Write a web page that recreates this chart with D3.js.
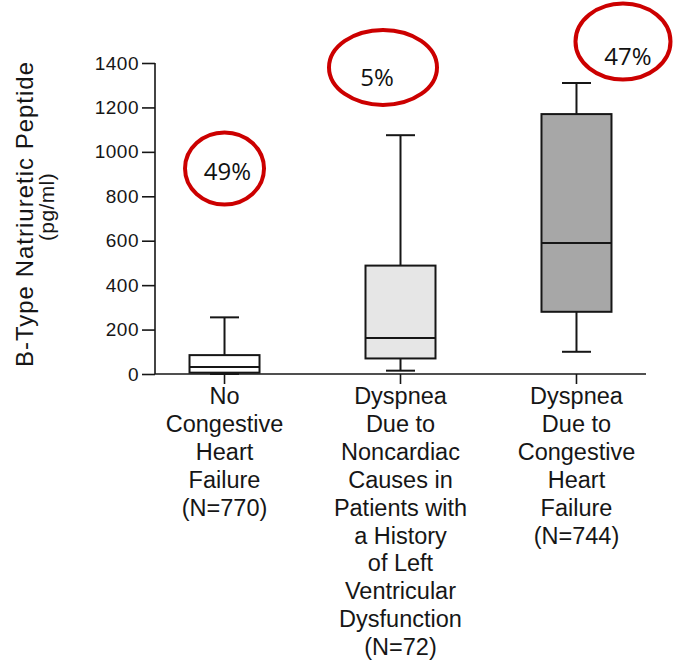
<!DOCTYPE html>
<html>
<head>
<meta charset="utf-8">
<script src="https://cdn.jsdelivr.net/npm/d3@7"></script>
<style>
  html, body { margin: 0; padding: 0; background: #fff; }
  svg { display: block; }
</style>
</head>
<body>
<svg id="chart" width="675" height="662"></svg>
<script>
// Groups and their box-plot summaries (pg/ml)
const groupLabels = [
  ["No", "Congestive", "Heart", "Failure", "(N=770)"],
  ["Dyspnea", "Due to", "Noncardiac", "Causes in", "Patients with", "a History", "of Left", "Ventricular", "Dysfunction", "(N=72)"],
  ["Dyspnea", "Due to", "Congestive", "Heart", "Failure", "(N=744)"]
];
const whiskerLow  = [0, 15, 100];
const quartile1   = [6, 70, 280];
const medians     = [32, 162, 590];
const quartile3   = [85, 488, 1170];
const whiskerHigh = [255, 1075, 1310];
const boxFills    = ["#ffffff", "#e6e6e6", "#a7a7a7"];

const yTicks = [0, 200, 400, 600, 800, 1000, 1200, 1400];

// Percent callouts drawn over the groups
const callouts = ["49%", "5%", "47%"];

const svg = d3.select("#chart");
const ink = "#161616";
const sans = "Liberation Sans, Arial, sans-serif";

const x = d3.scalePoint()
  .domain(d3.range(groupLabels.length))
  .range([155, 646])
  .padding(0.395);

const y = d3.scaleLinear().domain([0, 1400]).range([374, 63]);

// Y axis
const yAxis = svg.append("g")
  .attr("transform", "translate(155,0)")
  .call(d3.axisLeft(y).tickValues(yTicks).tickSize(13).tickPadding(3).tickFormat(d3.format("d")));
yAxis.selectAll("path, line").attr("stroke", ink).attr("stroke-width", 1.6);
yAxis.select(".domain").attr("d", `M0,${y(1400)}V${y(0)}`);
yAxis.attr("font-family", sans).attr("font-size", 19);
yAxis.selectAll("text")
  .attr("letter-spacing", 0.5)
  .attr("fill", ink);

// X axis baseline with ticks under each group
const xAxis = svg.append("g").attr("transform", `translate(0,${y(0)})`);
xAxis.append("line")
  .attr("x1", 155).attr("x2", 646)
  .attr("stroke", ink).attr("stroke-width", 1.6);
xAxis.selectAll("line.tick")
  .data(d3.range(groupLabels.length))
  .join("line")
  .attr("class", "tick")
  .attr("x1", d => x(d)).attr("x2", d => x(d))
  .attr("y1", 0).attr("y2", 10)
  .attr("stroke", ink).attr("stroke-width", 1.6);

// Group labels
const labelG = svg.append("g")
  .attr("font-family", sans)
  .attr("font-size", 23.5)
  .attr("fill", ink)
  .attr("text-anchor", "middle");
groupLabels.forEach((lines, i) => {
  const t = labelG.append("text").attr("x", x(i)).attr("y", 404);
  lines.forEach((ln, k) => {
    t.append("tspan").attr("x", x(i)).attr("dy", k === 0 ? 0 : 27.9).text(ln);
  });
});

// Y axis title
const titleG = svg.append("g")
  .attr("font-family", sans)
  .attr("fill", ink)
  .attr("text-anchor", "middle");
titleG.append("text")
  .attr("transform", "translate(33,214) rotate(-90)")
  .attr("font-size", 24)
  .attr("letter-spacing", 1)
  .text("B-Type Natriuretic Peptide");
titleG.append("text")
  .attr("transform", "translate(54,207) rotate(-90)")
  .attr("font-size", 21)
  .attr("letter-spacing", 0.4)
  .text("(pg/ml)");

// Box plots
const boxW = 70, capW = 29;
const boxes = svg.append("g")
  .selectAll("g")
  .data(d3.range(groupLabels.length))
  .join("g")
  .attr("stroke", ink)
  .attr("stroke-width", 2);

boxes.append("line")
  .attr("x1", i => x(i)).attr("x2", i => x(i))
  .attr("y1", i => y(whiskerHigh[i])).attr("y2", i => y(quartile3[i]));
boxes.append("line")
  .attr("x1", i => x(i)).attr("x2", i => x(i))
  .attr("y1", i => y(quartile1[i])).attr("y2", i => y(whiskerLow[i]));
boxes.append("line")
  .attr("x1", i => x(i) - capW / 2).attr("x2", i => x(i) + capW / 2)
  .attr("y1", i => y(whiskerHigh[i])).attr("y2", i => y(whiskerHigh[i]));
boxes.append("line")
  .attr("x1", i => x(i) - capW / 2).attr("x2", i => x(i) + capW / 2)
  .attr("y1", i => y(whiskerLow[i])).attr("y2", i => y(whiskerLow[i]));
boxes.append("rect")
  .attr("x", i => x(i) - boxW / 2)
  .attr("width", boxW)
  .attr("y", i => y(quartile3[i]))
  .attr("height", i => y(quartile1[i]) - y(quartile3[i]))
  .attr("fill", i => boxFills[i]);
boxes.append("line")
  .attr("x1", i => x(i) - boxW / 2).attr("x2", i => x(i) + boxW / 2)
  .attr("y1", i => y(medians[i])).attr("y2", i => y(medians[i]));

// Red ellipse callouts
const calloutPos = [
  { dx: 0,     v: 925,  rx: 39.5, ry: 36,   tdx: 3,  tdy: 11 },
  { dx: -17.5, v: 1380, rx: 54,   ry: 37.5, tdx: -6, tdy: 19 },
  { dx: 46.5,  v: 1497, rx: 47.5, ry: 38,   tdx: 5,  tdy: 24 }
];
const co = svg.append("g");
callouts.forEach((txt, i) => {
  const p = calloutPos[i];
  const cx = x(i) + p.dx, cy = y(p.v);
  co.append("ellipse")
    .attr("cx", cx).attr("cy", cy)
    .attr("rx", p.rx).attr("ry", p.ry)
    .attr("fill", "none")
    .attr("stroke", "#cc0000")
    .attr("stroke-width", 4);
  co.append("text")
    .attr("x", cx + p.tdx).attr("y", cy + p.tdy)
    .attr("text-anchor", "middle")
    .attr("font-family", "Open Sans, sans-serif")
    .attr("font-size", 24)
    .attr("fill", "#111")
    .text(txt);
});
</script>
</body>
</html>
